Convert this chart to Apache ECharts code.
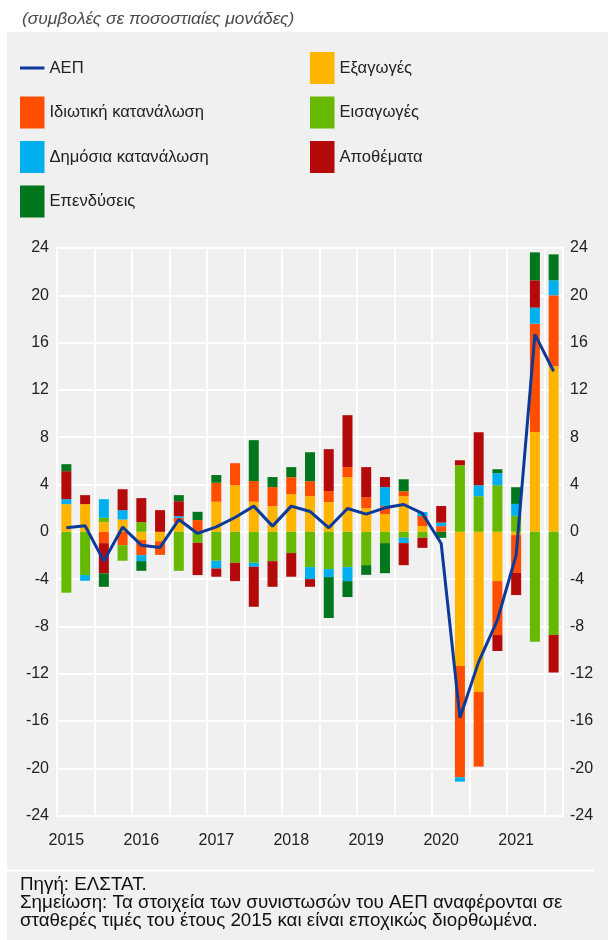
<!DOCTYPE html>
<html>
<head>
<meta charset="utf-8">
<script src="https://cdn.jsdelivr.net/npm/echarts@6/dist/echarts.min.js"></script>
<style>
html,body{margin:0;padding:0;background:#fff;}
#chart{width:608px;height:940px;}
</style>
</head>
<body>
<div id="chart"></div>
<script>
const quarters = ["2015Q1","2015Q2","2015Q3","2015Q4","2016Q1","2016Q2","2016Q3","2016Q4","2017Q1","2017Q2","2017Q3","2017Q4","2018Q1","2018Q2","2018Q3","2018Q4","2019Q1","2019Q2","2019Q3","2019Q4","2020Q1","2020Q2","2020Q3","2020Q4","2021Q1","2021Q2","2021Q3"];
const gdp        = [0.34,0.51,-2.48,0.39,-1.13,-1.32,1.04,-0.14,0.42,1.21,2.17,0.48,2.17,1.72,0.34,1.97,1.49,2.03,2.31,1.55,-0.99,-15.72,-11.0,-7.46,-1.97,16.7,13.58];
const exportsC   = [2.34,2.34,0.82,1.04,-0.70,-0.80,0.79,0,2.54,3.94,2.54,2.17,3.18,3.01,2.51,4.62,2.00,1.49,3.01,0.48,0,-11.35,-13.55,-4.17,-0.28,8.45,14.0];
const privateC   = [0,0,-0.96,-1.13,-1.27,-1.15,0.39,0.99,1.61,1.86,1.75,1.61,1.44,1.27,0.93,0.85,0.93,0.68,0.42,0.85,0.48,-9.41,-6.31,-4.56,-3.18,9.15,6.0];
const importsC   = [-5.15,-3.66,0.36,-1.32,0.82,0,-3.30,-0.93,-2.45,-2.62,-2.62,-2.48,-1.80,-2.99,-3.15,-2.99,-2.82,-0.96,-0.51,-0.51,0,5.63,3.01,3.94,1.35,-9.30,-8.73];
const publicC    = [0.42,-0.48,1.58,0.79,-0.51,0,0.14,0,-0.65,0,-0.34,0,0,-1.01,-0.68,-1.18,0,1.61,-0.45,0.34,0.30,-0.37,0.93,1.01,1.01,1.36,1.27];
const inventC    = [2.37,0.76,-2.56,1.77,2.03,1.83,1.27,-2.73,-0.70,-1.55,-3.38,-2.17,-2.00,-0.65,3.55,4.39,2.54,0.85,-1.86,-0.85,1.40,0.42,4.48,-1.35,-1.89,2.31,-3.17];
const investC    = [0.59,0,-1.13,0,-0.82,0,0.51,0.70,0.65,0,3.46,0.85,0.85,2.45,-3.46,-1.35,-0.82,-2.54,1.01,0,-0.51,0,0,0.34,1.41,2.36,2.19];
const yTicks = {min:-24, max:24, interval:4};

const FONT = "'Liberation Sans', Arial, sans-serif";
const chart = echarts.init(document.getElementById('chart'), null, {renderer:'canvas'});

function barSeries(name, data, color){
  return {name, type:'bar', stack:'c', data, barWidth:10, itemStyle:{color}, emphasis:{disabled:true}};
}
const legendText = {fontSize:16.6, color:'#222', fontFamily:FONT};

const option = {
  animation:false,
  backgroundColor:'#ffffff',
  textStyle:{fontFamily:FONT},
  graphic:[
    {type:'rect', shape:{x:7,y:32,width:601,height:908}, style:{fill:'#f0f0f0'}, z:-10, silent:true},
    {type:'text', x:22, y:19, style:{text:'(συμβολές σε ποσοστιαίες μονάδες)', font:'italic 17.4px '+FONT, fill:'#4a4a4a', textVerticalAlign:'middle'}},
    {type:'rect', shape:{x:7,y:869.5,width:587,height:2}, style:{fill:'#ffffff'}, silent:true},
    {type:'text', x:20, y:885, style:{text:'Πηγή: ΕΛΣΤΑΤ.', font:'18.8px '+FONT, fill:'#111', textVerticalAlign:'middle'}},
    {type:'text', x:20, y:903, style:{text:'Σημείωση: Τα στοιχεία των συνιστωσών του ΑΕΠ αναφέρονται σε', font:'18.8px '+FONT, fill:'#111', textVerticalAlign:'middle'}},
    {type:'text', x:20, y:921, style:{text:'σταθερές τιμές του έτους 2015 και είναι εποχικώς διορθωμένα.', font:'18.8px '+FONT, fill:'#111', textVerticalAlign:'middle'}}
  ],
  legend:[
    {left:20, top:59.5, padding:0, orient:'vertical', itemWidth:24.5, itemHeight:3, icon:'rect',
     data:['ΑΕΠ'], textStyle:legendText, selectedMode:false},
    {left:20, top:96.5, padding:0, orient:'vertical', itemWidth:24.5, itemHeight:32, itemGap:12.5, icon:'rect',
     data:['Ιδιωτική κατανάλωση','Δημόσια κατανάλωση','Επενδύσεις'],
     textStyle:legendText, selectedMode:false},
    {left:310, top:52, padding:0, orient:'vertical', itemWidth:24.5, itemHeight:32, itemGap:12.5, icon:'rect',
     data:['Εξαγωγές','Εισαγωγές','Αποθέματα'],
     textStyle:legendText, selectedMode:false}
  ],
  grid:{left:57, right:45, top:248, bottom:124.4, containLabel:false},
  xAxis:{
    type:'category', data:quarters, boundaryGap:true,
    axisLine:{show:true, lineStyle:{color:'#ffffff', width:2}},
    axisTick:{show:true, interval:1, length:6, lineStyle:{color:'#ffffff', width:2}},
    axisLabel:{interval:3, formatter:v=>v.slice(0,4), fontSize:16, color:'#222', margin:17, fontFamily:FONT},
    splitLine:{show:true, interval:1, lineStyle:{color:'#ffffff', width:2}}
  },
  yAxis:[
    {type:'value', min:yTicks.min, max:yTicks.max, interval:yTicks.interval, position:'left',
     axisLine:{show:true, lineStyle:{color:'#ffffff', width:2}}, axisTick:{show:false},
     axisLabel:{fontSize:16, color:'#222', margin:8, fontFamily:FONT},
     splitLine:{show:true, lineStyle:{color:'#ffffff', width:2}}},
    {type:'value', min:yTicks.min, max:yTicks.max, interval:yTicks.interval, position:'right',
     axisLine:{show:true, lineStyle:{color:'#ffffff', width:2}}, axisTick:{show:false},
     axisLabel:{fontSize:16, color:'#222', margin:7, fontFamily:FONT},
     splitLine:{show:false}}
  ],
  series:[
    barSeries('Εξαγωγές', exportsC, '#ffb400'),
    barSeries('Ιδιωτική κατανάλωση', privateC, '#ff4e00'),
    barSeries('Εισαγωγές', importsC, '#66b900'),
    barSeries('Δημόσια κατανάλωση', publicC, '#00b0ee'),
    barSeries('Αποθέματα', inventC, '#b40a0a'),
    barSeries('Επενδύσεις', investC, '#00771c'),
    {name:'ΑΕΠ', type:'line', data:gdp, symbol:'none', showSymbol:false, z:5,
     lineStyle:{color:'#0b3a9a', width:3}, itemStyle:{color:'#0b3a9a'}, emphasis:{disabled:true}}
  ]
};
chart.setOption(option);
</script>
</body>
</html>
